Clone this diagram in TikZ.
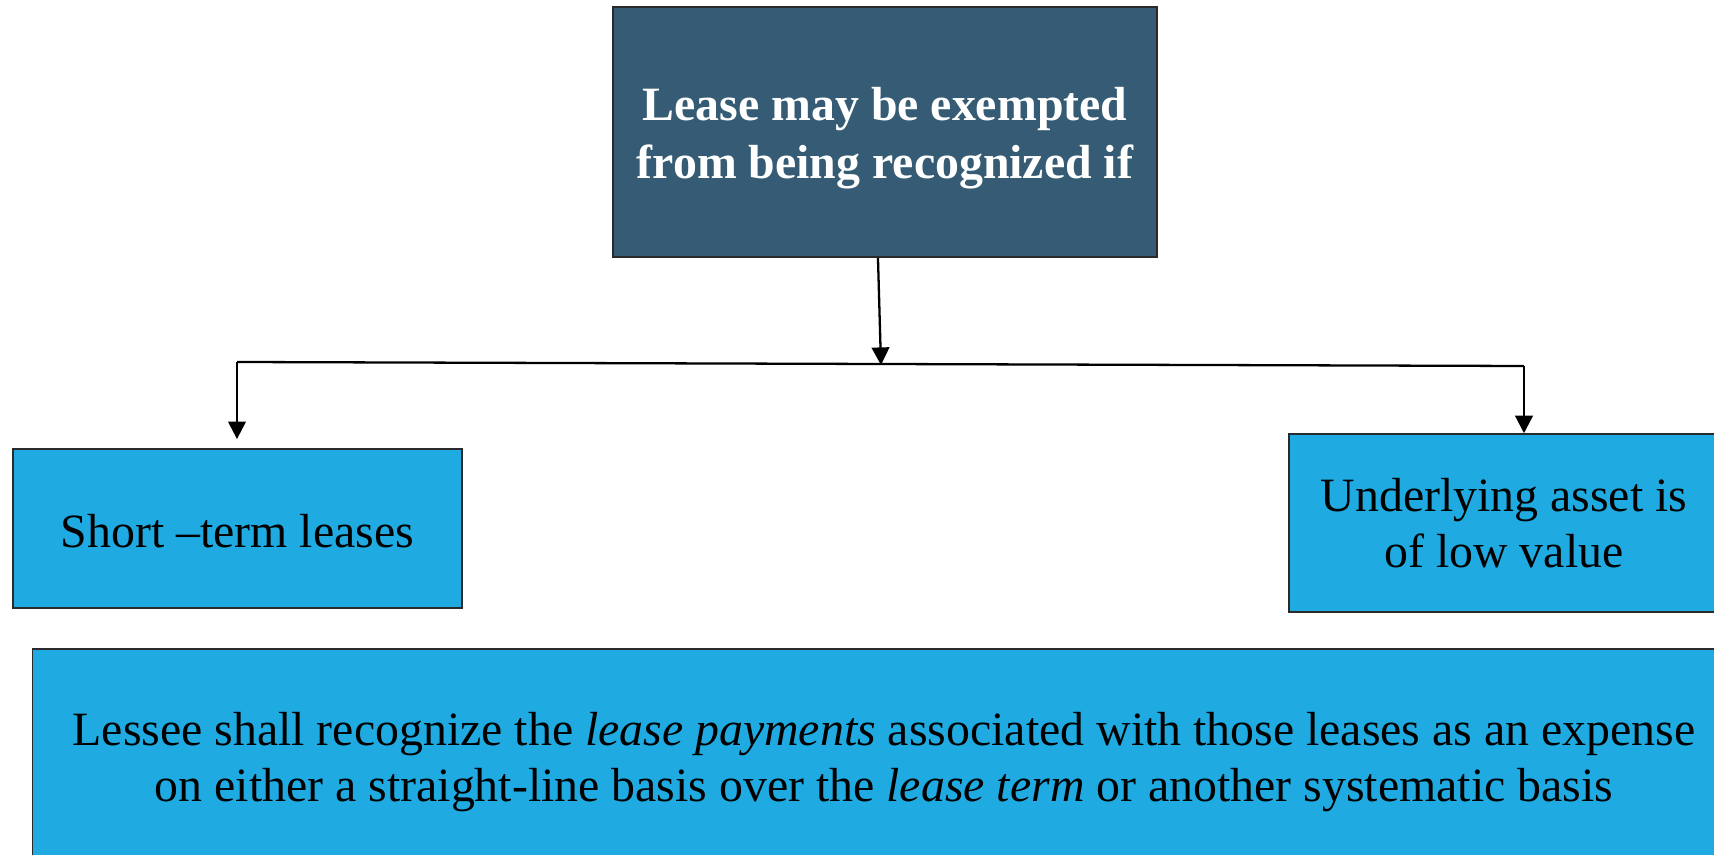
\documentclass[tikz,border=0pt]{standalone}
\usepackage{fontspec}
\setmainfont{Liberation Serif}
\usepackage{xcolor}
\definecolor{slatenavy}{HTML}{355C74}
\definecolor{skyfill}{HTML}{1FABE2}
\definecolor{edgegray}{HTML}{2A2A2A}
\usetikzlibrary{arrows.meta}

\begin{document}
\begin{tikzpicture}[
  x=0.01cm, y=-0.01cm,
  headbox/.style={rectangle, draw=edgegray, fill=slatenavy, line width=0.4pt, text=white, align=center, inner sep=0pt, font=\fontsize{13.6}{16.4}\selectfont\bfseries},
  leafbox/.style={rectangle, draw=edgegray, fill=skyfill, line width=0.4pt, align=center, inner sep=0pt, font=\fontsize{13.6}{15.9}\selectfont},
  arr/.style={-{Triangle[length=5pt, width=5pt]}, line width=0.65pt},
  link/.style={line width=0.65pt},
]
\useasboundingbox (0,0) rectangle (1714,855);

\node[headbox, minimum width=5.44cm, minimum height=2.5cm] (head) at (885,132) {\rule{0pt}{13pt}Lease may be exempted\\from being recognized if};

\node[leafbox, minimum width=4.49cm, minimum height=1.59cm] (short) at (237.5,528.5) {\rule{0pt}{11pt}Short --term leases};
\node[leafbox, minimum width=4.30cm, minimum height=1.78cm] (low) at (1504,523) {Underlying asset is\\of low value};

\node[leafbox, minimum width=17.02cm, minimum height=2.18cm] (rule) at (884,758) {\rule{0pt}{11.5pt}Lessee shall recognize the \textit{lease payments} associated with those leases as an expense\\on either a straight-line basis over the \textit{lease term} or another systematic basis};

% branch lines
\coordinate (jl) at (237,362);
\coordinate (jm) at (881,365);
\coordinate (jr) at (1524,366);

\draw[arr] ([xshift=-2pt]head.south) -- (jm);
\draw[link] (jl) -- (jr);
\draw[arr, shorten >=2.6pt] (jl) -- (jl |- short.north);
\draw[arr] (jr) -- (jr |- low.north);

\end{tikzpicture}
\end{document}
